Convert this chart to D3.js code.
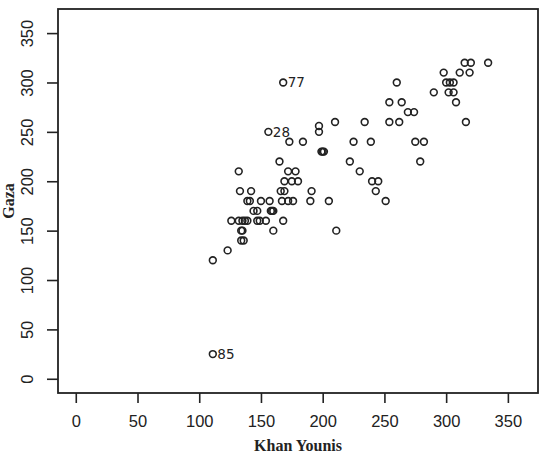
<!DOCTYPE html>
<html>
<head>
<meta charset="utf-8">
<script src="https://cdn.jsdelivr.net/npm/d3@7"></script>
<style>
  html, body { margin: 0; padding: 0; background: #fff; }
  svg { display: block; }
</style>
</head>
<body>
<svg id="chart" width="546" height="456"></svg>
<script>
// Khan Younis (x) vs Gaza (y)
const khanYounis = [
  168, 156, 111,
  334, 315, 320,
  298, 311, 319,
  260, 300, 303, 306,
  290, 302, 306,
  254, 264, 308,
  269, 274,
  210, 234, 254, 262, 316,
  197, 197,
  173, 184, 225, 239, 275, 282,
  199, 200, 201,
  165, 222, 279,
  132, 172, 178, 230,
  169, 175, 180, 240, 245,
  133, 142, 166, 169, 191, 243,
  139, 141, 150, 157, 167, 172, 176, 190, 205, 251,
  144, 147, 158, 159, 160,
  126, 132, 135, 137, 139, 147, 149, 154, 168,
  134, 135, 160, 211,
  134, 136,
  123,
  111
];
const gaza = [
  300, 250, 25,
  320, 320, 320,
  310, 310, 310,
  300, 300, 300, 300,
  290, 290, 290,
  280, 280, 280,
  270, 270,
  260, 260, 260, 260, 260,
  256, 250,
  240, 240, 240, 240, 240, 240,
  230, 230, 230,
  220, 220, 220,
  210, 210, 210, 210,
  200, 200, 200, 200, 200,
  190, 190, 190, 190, 190, 190,
  180, 180, 180, 180, 180, 180, 180, 180, 180, 180,
  170, 170, 170, 170, 170,
  160, 160, 160, 160, 160, 160, 160, 160, 160,
  150, 150, 150, 150,
  140, 140,
  130,
  120
];
// labels for outlying observations (by index in arrays above)
const labelIndex = [0, 1, 2];
const labelText = ["77", "28", "85"];
const tickValues = [0, 50, 100, 150, 200, 250, 300, 350];
const xTitle = "Khan Younis";
const yTitle = "Gaza";

const svg = d3.select("#chart");
const mLeft = 58, mRight = 538, mTop = 9, mBottom = 393;
const ink = "#222";

const x = d3.scaleLinear().domain([-14.4, 374.4]).range([mLeft, mRight]);
const y = d3.scaleLinear().domain([-14.4, 374.4]).range([mBottom, mTop]);

// X axis
const xAxis = d3.axisBottom(x).tickValues(tickValues).tickSize(10).tickPadding(12).tickFormat(d3.format("d"));
const gx = svg.append("g").attr("transform", `translate(0,${mBottom})`).call(xAxis);
gx.select(".domain").remove();
gx.selectAll(".tick line").attr("stroke", ink).attr("stroke-width", 1.6);
gx.selectAll(".tick text")
  .attr("fill", ink)
  .style("font-family", "'Liberation Sans', Arial, sans-serif")
  .style("font-size", "16.5px");

// Y axis
const yAxis = d3.axisLeft(y).tickValues(tickValues).tickSize(11).tickPadding(0).tickFormat(d3.format("d"));
const gy = svg.append("g").attr("transform", `translate(${mLeft},0)`).call(yAxis);
gy.select(".domain").remove();
gy.selectAll(".tick line").attr("stroke", ink).attr("stroke-width", 1.6);
gy.selectAll(".tick text")
  .attr("fill", ink)
  .attr("x", null).attr("dy", null)
  .attr("text-anchor", "middle")
  .attr("dominant-baseline", "central")
  .attr("transform", "translate(-31,0) rotate(-90)")
  .style("font-family", "'Liberation Sans', Arial, sans-serif")
  .style("font-size", "16.5px");

// Box
svg.append("rect")
  .attr("x", mLeft).attr("y", mTop)
  .attr("width", mRight - mLeft).attr("height", mBottom - mTop)
  .attr("fill", "none").attr("stroke", ink).attr("stroke-width", 1.8);

// Points
svg.append("g").selectAll("circle")
  .data(khanYounis.map((k, i) => ({ k, g: gaza[i] })))
  .join("circle")
  .attr("cx", d => x(d.k))
  .attr("cy", d => y(d.g))
  .attr("r", 3.4)
  .attr("fill", "none")
  .attr("stroke", ink)
  .attr("stroke-width", 1.6);

// Labels
svg.append("g").selectAll("text")
  .data(labelIndex.map((idx, j) => ({ k: khanYounis[idx], g: gaza[idx], t: labelText[j] })))
  .join("text")
  .attr("x", d => x(d.k) + 4.5)
  .attr("y", d => y(d.g))
  .attr("dominant-baseline", "central")
  .attr("fill", ink)
  .style("font-family", "'DejaVu Sans', sans-serif")
  .style("font-size", "13.5px")
  .text(d => d.t);

// Axis titles
svg.append("text")
  .attr("x", (mLeft + mRight) / 2).attr("y", 445)
  .attr("text-anchor", "middle").attr("dominant-baseline", "central")
  .attr("fill", ink)
  .style("font-family", "'Liberation Serif', 'Times New Roman', serif")
  .style("font-weight", "bold")
  .style("font-size", "16px")
  .text(xTitle);

svg.append("text")
  .attr("transform", `translate(8,${(mTop + mBottom) / 2}) rotate(-90)`)
  .attr("text-anchor", "middle").attr("dominant-baseline", "central")
  .attr("fill", ink)
  .style("font-family", "'Liberation Serif', 'Times New Roman', serif")
  .style("font-weight", "bold")
  .style("font-size", "16px")
  .text(yTitle);
</script>
</body>
</html>
